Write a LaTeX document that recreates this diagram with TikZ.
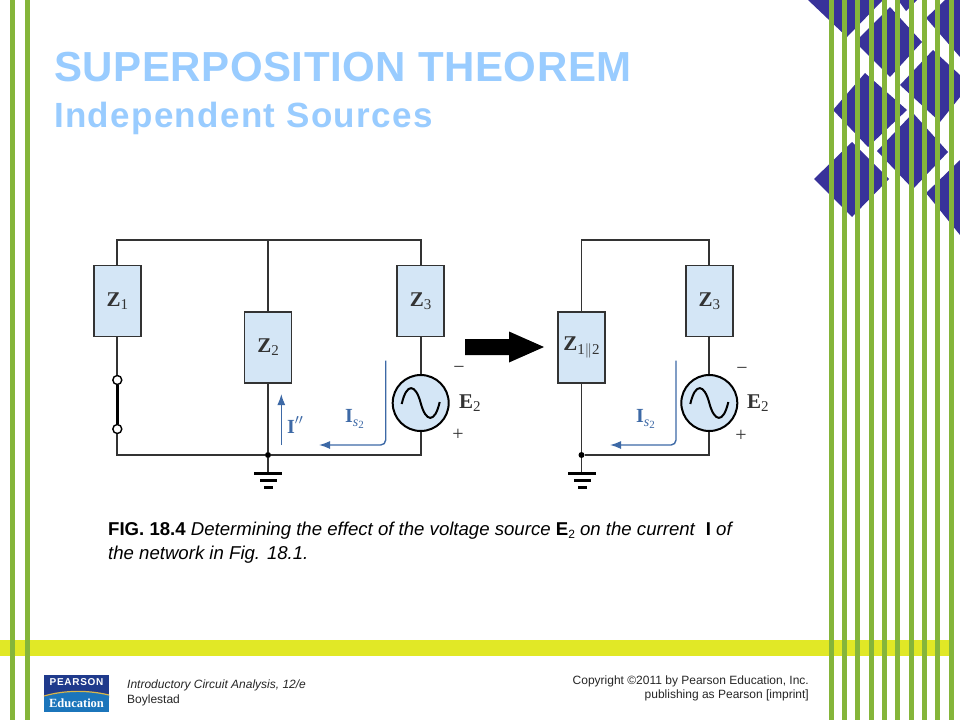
\documentclass[tikz,border=0pt]{standalone}
\usepackage{fontspec}
\setmainfont{Liberation Sans}
\newfontfamily\cirfont{Liberation Serif}
\newfontface\titlefont[LetterSpace=1.3]{Liberation Sans Bold}
\newfontface\subtitlefont[LetterSpace=3.8]{Liberation Sans Bold}
\newfontface\logofont[LetterSpace=7]{Liberation Sans Bold}
\usetikzlibrary{arrows.meta,calc}
\definecolor{stripe}{HTML}{85B53A}
\definecolor{band}{HTML}{E1E826}
\definecolor{navy}{HTML}{38329A}
\definecolor{titleblue}{HTML}{99CCFF}
\definecolor{boxfill}{HTML}{D4E6F6}
\definecolor{wirec}{HTML}{333333}
\definecolor{flow}{HTML}{3D69A6}
\definecolor{logotop}{HTML}{1F3A8C}
\definecolor{logobot}{HTML}{1B75BB}
\definecolor{logogold}{HTML}{D8B64A}
\definecolor{foot}{HTML}{262626}
\tikzset{
  x=1pt,y=-1pt,
  imp/.style={draw=wirec,fill=boxfill,line width=1.8pt,minimum width=47pt,minimum height=71pt,inner sep=0pt,font=\cirfont\fontsize{21}{21}\selectfont\bfseries,text=wirec},
  wire/.style={draw=wirec,line width=1.8pt},
  src/.style={circle,draw=black,fill=boxfill,line width=2pt,minimum size=56pt,inner sep=0pt},
  term/.style={circle,draw=black,fill=white,line width=1.4pt,minimum size=9pt,inner sep=0pt},
  dotn/.style={circle,fill=black,minimum size=6pt,inner sep=0pt},
  flowline/.style={draw=flow,line width=1.4pt,rounded corners=5pt,-{Latex[length=11pt,width=8pt]}},
  gnd/.style={draw=black,line width=3pt},
  sym/.style={font=\cirfont\fontsize{21}{21}\selectfont\bfseries,inner sep=0pt,text=wirec},
  flowlab/.style={font=\cirfont\fontsize{20}{20}\selectfont\bfseries,inner sep=0pt,text=flow},
  sgn/.style={font=\cirfont\fontsize{20}{20}\selectfont,inner sep=0pt,text=wirec},
  txt/.style={inner sep=0pt,anchor=base west},
  txr/.style={inner sep=0pt,anchor=base east},
  capt/.style={txt,font=\fontsize{18.6}{18.6}\selectfont,text=black},
  ftxt/.style={font=\fontsize{12}{12}\selectfont,text=foot},
  wave/.style={line width=2pt,black},
}
\newcommand{\subn}[1]{\raisebox{-3.5pt}{\fontsize{15}{15}\selectfont\mdseries #1}}
\newcommand{\subs}{\raisebox{-4pt}{\fontsize{14}{14}\selectfont\mdseries\itshape s\raisebox{-2.5pt}{\fontsize{11}{11}\selectfont\upshape 2}}}
\begin{document}
\begin{tikzpicture}
\useasboundingbox (0,0) rectangle (960,720);
\fill[white] (0,0) rectangle (960,720);
% diamonds
\fill[navy] (808,0)--(847,37)--(883,0)--cycle;
\fill[navy] (890,7)--(922,42)--(890,77)--(855,42)--cycle;
\fill[navy] (898,0)--(906,11)--(917,0)--cycle;
\fill[navy] (926,18)--(945,0)--(960,0)--(960,57)--cycle;
\fill[navy] (900,85)--(933,50)--(960,75)--(960,97)--(940,122)--cycle;
\fill[navy] (833,110)--(865,73)--(907,110)--(868,147)--cycle;
\fill[navy] (877,151)--(913,113)--(948,152)--(913,189)--cycle;
\fill[navy] (814,179)--(852,142)--(889,179)--(852,217)--cycle;
\fill[navy] (926,193)--(960,160)--(960,235)--cycle;
% band
\fill[band] (0,640) rectangle (954,656);
% stripes
\foreach \sx in {10,25,829,842,855,869,882,895,909,922,935,949}
  \fill[stripe] (\sx,0) rectangle ++(5,720);
% titles
\node[txt,font=\titlefont\fontsize{42}{42}\selectfont,text=titleblue] (title) at (54,81) {SUPERPOSITION THEOREM};
\node[txt,font=\subtitlefont\fontsize{35}{35}\selectfont,text=titleblue] (subtitle) at (54,127) {Independent Sources};
% left circuit
\node[imp] (z1) at (117.3,301) {Z\subn{1}};
\node[imp] (z2) at (268,347.3) {Z\subn{2}};
\node[imp] (z3) at (420.7,301) {Z\subn{3}};
\node[src] (e) at (420.7,403) {};
\node[term] (sa) at (117.3,380) {};
\node[term] (sb) at (117.3,429) {};
\node[dotn] (j) at (268,455) {};
\coordinate (jt) at (268,240);
\coordinate (g1) at (268,473.5);
\draw[wire] (z1.north) |- (jt) -| (z3.north);
\draw[wire] (jt) -- (z2.north);
\draw[wire] (z1.south) -- (sa);
\draw[wire] (sb) |- (j);
\draw[wire] (z2.south) -- (j);
\draw[wire] (j) -| (e.south);
\draw[wire] (z3.south) -- (e.north);
\draw[wire] (j) -- (g1);
\draw[line width=3pt,black] (sa) -- (sb);
\draw[gnd] (254,473.5) -- (282,473.5) (260,480.5) -- (277,480.5) (264,487) -- (273,487);
\draw[wave] ($(e)+(-19,1)$) .. controls ($(e)+(-14,-21)$) and ($(e)+(-5,-19)$) .. (e.center) .. controls ($(e)+(5,19)$) and ($(e)+(14,21)$) .. ($(e)+(19,-1)$);
\coordinate (i1a) at (281.3,445);
\coordinate (i1b) at (281.3,394);
\draw[draw=flow,line width=1.4pt,-{Latex[length=11pt,width=8pt]}] (i1a) -- (i1b);
\node[flowlab,anchor=west] (il) at (287,425) {I\raisebox{2pt}{$''$}};
\coordinate (s1a) at (385.7,360.7);
\coordinate (s1b) at (385.7,445);
\coordinate (s1c) at (319,445);
\draw[flowline] (s1a) -- (s1b) -- (s1c);
\node[flowlab,anchor=west] (isa) at (345,419) {I\subs};
\node[sym,anchor=west] (ea) at (459,403) {E\subn{2}};
\node[sgn] (ema) at (459,370) {−};
\node[sgn] (epa) at (458,435) {+};
% big arrow
\coordinate (bb) at (544,347);
\fill[black] (465,339)--(509,339)--(509,331.5)--(bb)--(509,362.5)--(509,355)--(465,355)--cycle;
% right circuit
\node[imp] (z12) at (581.5,347.3) {Z\subn{1$\|$2}};
\node[imp] (zr3) at (709.3,301) {Z\subn{3}};
\node[src] (er) at (709.3,403) {};
\node[dotn] (jr) at (581.5,455) {};
\coordinate (g2) at (581.5,473.5);
\draw[wire] (z12.north) |- (709.3,240) -- (zr3.north);
\draw[wire] (zr3.south) -- (er.north);
\draw[wire] (z12.south) -- (jr);
\draw[wire] (jr) -| (er.south);
\draw[wire] (jr) -- (g2);
\draw[gnd] (568,473.5) -- (596,473.5) (574,480.5) -- (591,480.5) (578,487) -- (587,487);
\draw[wave] ($(er)+(-19,1)$) .. controls ($(er)+(-14,-21)$) and ($(er)+(-5,-19)$) .. (er.center) .. controls ($(er)+(5,19)$) and ($(er)+(14,21)$) .. ($(er)+(19,-1)$);
\coordinate (s2a) at (676,360.7);
\coordinate (s2b) at (676,445);
\coordinate (s2c) at (610,445);
\draw[flowline] (s2a) -- (s2b) -- (s2c);
\node[flowlab,anchor=west] (isb) at (636,419) {I\subs};
\node[sym,anchor=west] (eb) at (747,403) {E\subn{2}};
\node[sgn] (emb) at (742,371) {−};
\node[sgn] (epb) at (741,436) {+};
% caption
\node[capt] (c1) at (108,535.5) {\textbf{FIG. 18.4} \textit{Determining the effect of the voltage source} \textbf{E}\raisebox{-2.5pt}{\fontsize{12}{12}\selectfont 2} \textit{on the current}\ \ \textbf{I} \textit{of}};
\node[capt] (c2) at (108,559) {\textit{the network in Fig. 18.1.}};
% logo
\fill[logotop] (44,675) rectangle (109,697);
\fill[logobot] (44,697) rectangle (109,712);
\fill[logobot] (44,697) .. controls (65,690) and (88,690) .. (109,695) -- (109,698) -- (44,698) -- cycle;
\draw[logogold,line width=1.2pt] (44,696) .. controls (65,690) and (88,690) .. (109,695);
\node[inner sep=0pt,text=white,font=\logofont\fontsize{10}{10}\selectfont] (lp) at (76.5,682) {PEARSON};
\node[inner sep=0pt,text=white,font=\cirfont\fontsize{12.5}{12.5}\selectfont\bfseries] (le) at (76.5,703) {Education};
% footer
\node[txt,ftxt] (f1) at (127,688) {\textit{Introductory Circuit Analysis, 12/e}};
\node[txt,ftxt] (f2) at (127,703) {Boylestad};
\node[txr,ftxt] (f3) at (809,684) {Copyright ©2011 by Pearson Education, Inc.};
\node[txr,ftxt] (f4) at (809,698) {publishing as Pearson [imprint]};
\end{tikzpicture}
\end{document}
